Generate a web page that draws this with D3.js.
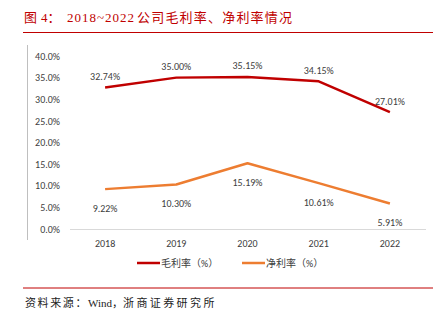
<html>
<head>
  <meta charset="utf-8">
  <title>2018~2022 公司毛利率、净利率情况</title>
  <style>
    body { margin: 0; background: #fff; }
  </style>
  <script src="https://d3js.org/d3.v7.min.js"></script>
</head>
<body>
  <div id="container"></div>
  <script>
    // data
    const years = ["2018", "2019", "2020", "2021", "2022"];
    const grossMargin = [32.74, 35.00, 35.15, 34.15, 27.01];
    const netMargin = [9.22, 10.30, 15.19, 10.61, 5.91];
    const yTicks = [0, 5, 10, 15, 20, 25, 30, 35, 40];
    const seriesNames = ["毛利率（%）", "净利率（%）"];

    const width = 446, height = 321;
    const red = "#c00000", orange = "#ed7d31";
    const cjk = "Calibri, Carlito, 'Noto Sans CJK SC', sans-serif";
    const serif = "'Liberation Serif', 'Noto Sans CJK SC', serif";

    var svg = d3.select("#container")
      .append("svg")
      .attr("width", width)
      .attr("height", height)
      .style("display", "block");

    // title + rules
    var title = svg.append("text")
      .attr("y", 22)
      .attr("font-family", serif)
      .attr("font-size", 13)
      .attr("fill", red);
    title.append("tspan").attr("x", 24).text("图");
    title.append("tspan").attr("x", 41).text("4：");
    title.append("tspan").attr("x", 67).attr("letter-spacing", 1).text("2018~2022");
    title.append("tspan").attr("x", 137).attr("letter-spacing", 1.2).text("公司毛利率、净利率情况");

    svg.append("line")
      .attr("x1", 23).attr("x2", 433).attr("y1", 32.5).attr("y2", 32.5)
      .attr("stroke", red).attr("stroke-width", 1);
    svg.append("line")
      .attr("x1", 23).attr("x2", 433).attr("y1", 288).attr("y2", 288)
      .attr("stroke", red).attr("stroke-width", 1);

    var source = svg.append("text")
      .attr("y", 307)
      .attr("font-family", serif)
      .attr("font-size", 11)
      .attr("fill", "#222");
    source.append("tspan").attr("x", 25).attr("letter-spacing", 1.6).text("资料来源：");
    source.append("tspan").attr("x", 88).text("Wind，");
    source.append("tspan").attr("x", 123).attr("letter-spacing", 2.4).text("浙商证券研究所");

    // left frame line
    svg.append("line")
      .attr("x1", 27.5).attr("x2", 27.5).attr("y1", 45).attr("y2", 240)
      .attr("stroke", "#bfbfbf");

    // scales
    var x = d3.scaleBand().domain(years).range([69.5, 425.5]);
    var y = d3.scaleLinear().domain([0, 40]).range([229, 56]);
    var cx = function(d, i){ return x(years[i]) + x.bandwidth()/2; };

    // y axis labels
    var yAxis = d3.axisLeft(y).tickValues(yTicks)
      .tickFormat(function(d){ return d.toFixed(1) + "%"; })
      .tickSize(0).tickPadding(0);
    var gy = svg.append("g").attr("transform", "translate(60,0)").call(yAxis);
    gy.select(".domain").remove();
    gy.selectAll("text").attr("font-family", cjk).attr("font-size", 10).attr("fill", "#404040");

    // x axis
    var xAxis = d3.axisBottom(x).tickSize(0).tickPadding(11);
    var gx = svg.append("g").attr("transform", "translate(0," + y(0) + ")").call(xAxis);
    gx.select(".domain").attr("stroke", "#d9d9d9");
    gx.selectAll("text").attr("font-family", cjk).attr("font-size", 10).attr("fill", "#404040");

    // lines
    var line = d3.line().x(cx).y(function(d){ return y(d); });
    [[grossMargin, red, -7.5], [netMargin, orange, 22.5]].forEach(function(s){
      svg.append("path")
        .attr("d", line(s[0]))
        .attr("fill", "none")
        .attr("stroke", s[1])
        .attr("stroke-width", 2.5)
        .attr("stroke-linejoin", "round");
      svg.selectAll(null)
        .data(s[0])
        .enter()
        .append("text")
        .attr("x", cx)
        .attr("y", function(d){ return y(d) + s[2]; })
        .attr("text-anchor", "middle")
        .attr("font-family", cjk)
        .attr("font-size", 10)
        .attr("fill", "#404040")
        .text(function(d){ return d.toFixed(2) + "%"; });
    });

    // legend
    var legendX = [137, 242];
    [red, orange].forEach(function(c, i){
      svg.append("line")
        .attr("x1", legendX[i]).attr("x2", legendX[i] + 23)
        .attr("y1", 263).attr("y2", 263)
        .attr("stroke", c).attr("stroke-width", 2.5);
      svg.append("text")
        .attr("x", legendX[i] + 24).attr("y", 267)
        .attr("font-family", cjk)
        .attr("font-size", 10)
        .attr("fill", "#404040")
        .text(seriesNames[i]);
    });
  </script>
</body>
</html>
